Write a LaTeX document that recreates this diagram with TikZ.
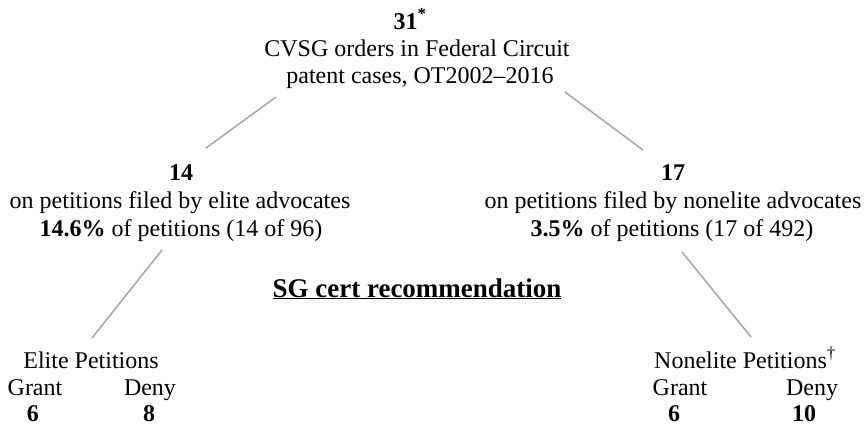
\documentclass[tikz,border=0pt]{standalone}
\usepackage{fontspec}
\setmainfont{Liberation Serif}
\definecolor{lineGrey}{RGB}{165,165,165}
\tikzset{
    TEXT/.style={anchor=base, inner sep=0mm, outer sep=0mm,
        font={\fontsize{24}{28}\selectfont}},
    BOLD_TEXT/.style={TEXT, font={\fontsize{24}{28}\selectfont\bfseries}},
    HEADING/.style={TEXT, font={\fontsize{27}{30}\selectfont\bfseries}},
    EDGE/.style={draw=lineGrey, line width=1.5pt}
}
\pgfdeclarelayer{edgelayer}
\pgfdeclarelayer{nodelayer}
\pgfsetlayers{edgelayer,nodelayer,main}
\begin{document}
\begin{tikzpicture}[x=1pt, y=-1pt]
    \useasboundingbox (0,0) rectangle (864,426);
    \begin{pgfonlayer}{nodelayer}
        \node [BOLD_TEXT] (1) at (410, 29) {31\textsuperscript{*}};
        \node [TEXT] (2) at (417, 56) {CVSG orders in Federal Circuit};
        \node [TEXT] (3) at (420, 83) {patent cases, OT2002--2016};
        \node [BOLD_TEXT] (4) at (181, 180) {14};
        \node [TEXT] (5) at (180, 208) {on petitions filed by elite advocates};
        \node [TEXT] (6) at (181, 236) {\textbf{14.6\%} of petitions (14 of 96)};
        \node [BOLD_TEXT] (7) at (673, 180) {17};
        \node [TEXT] (8) at (673, 208) {on petitions filed by nonelite advocates};
        \node [TEXT] (9) at (672, 236) {\textbf{3.5\%} of petitions (17 of 492)};
        \node [HEADING] (10) at (417, 297) {\underline{SG cert recommendation}};
        \node [TEXT] (11) at (91, 368) {Elite Petitions};
        \node [TEXT] (12) at (35, 395) {Grant};
        \node [TEXT] (13) at (150, 395) {Deny};
        \node [BOLD_TEXT] (14) at (33, 421) {6};
        \node [BOLD_TEXT] (15) at (149, 421) {8};
        \node [TEXT] (16) at (745, 368) {Nonelite Petitions\textsuperscript{\dag}};
        \node [TEXT] (17) at (680, 395) {Grant};
        \node [TEXT] (18) at (812, 395) {Deny};
        \node [BOLD_TEXT] (19) at (674, 421) {6};
        \node [BOLD_TEXT] (20) at (804, 421) {10};
    \end{pgfonlayer}
    \begin{pgfonlayer}{edgelayer}
        \coordinate (21) at (276, 97);
        \coordinate (22) at (206, 148);
        \coordinate (23) at (565, 92);
        \coordinate (24) at (643, 150);
        \coordinate (25) at (162, 250);
        \coordinate (26) at (92, 338);
        \coordinate (27) at (682, 252);
        \coordinate (28) at (751, 337);
        \draw[EDGE] (21) to (22);
        \draw[EDGE] (23) to (24);
        \draw[EDGE] (25) to (26);
        \draw[EDGE] (27) to (28);
    \end{pgfonlayer}
\end{tikzpicture}
\end{document}
